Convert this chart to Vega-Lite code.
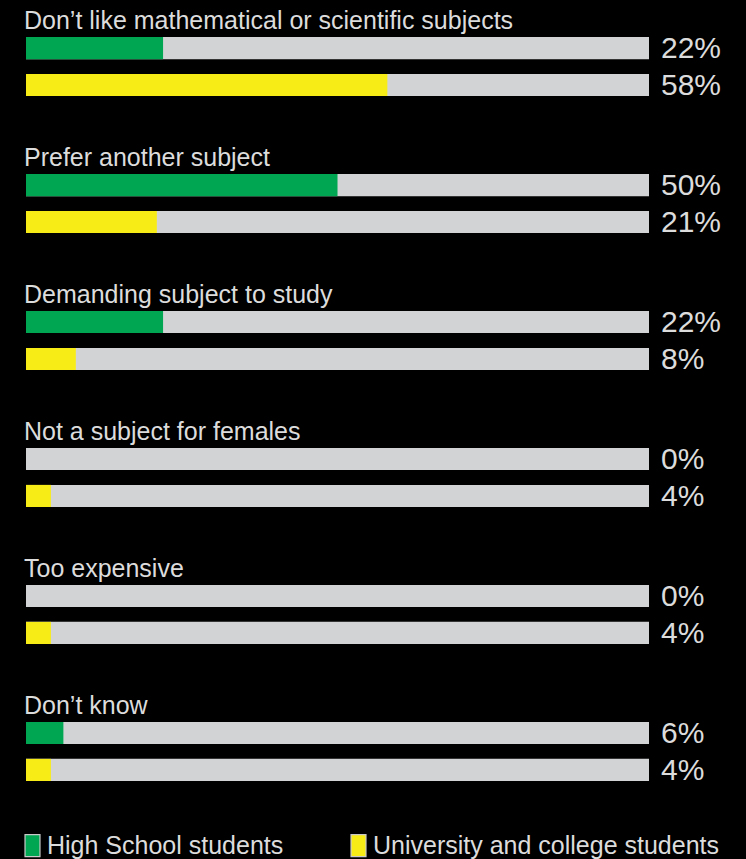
{
  "$schema": "https://vega.github.io/schema/vega-lite/v6.json",
  "width": 623,
  "height": 744,
  "autosize": {"type": "none"},
  "padding": {"left": 26, "top": 37, "right": 97, "bottom": 78},
  "background": "#000000",
  "config": {
    "view": {"stroke": null},
    "font": "Liberation Sans",
    "text": {"font": "Liberation Sans", "color": "#DCDCDC"}
  },
  "data": {
    "values": [
      {"category": "Don’t like mathematical or scientific subjects", "group": "High School students", "value": 0.22},
      {"category": "Don’t like mathematical or scientific subjects", "group": "University and college students", "value": 0.58},
      {"category": "Prefer another subject", "group": "High School students", "value": 0.50},
      {"category": "Prefer another subject", "group": "University and college students", "value": 0.21},
      {"category": "Demanding subject to study", "group": "High School students", "value": 0.22},
      {"category": "Demanding subject to study", "group": "University and college students", "value": 0.08},
      {"category": "Not a subject for females", "group": "High School students", "value": 0.0},
      {"category": "Not a subject for females", "group": "University and college students", "value": 0.04},
      {"category": "Too expensive", "group": "High School students", "value": 0.0},
      {"category": "Too expensive", "group": "University and college students", "value": 0.04},
      {"category": "Don’t know", "group": "High School students", "value": 0.06},
      {"category": "Don’t know", "group": "University and college students", "value": 0.04}
    ]
  },
  "encoding": {
    "y": {
      "field": "category",
      "type": "nominal",
      "axis": null,
      "sort": null,
      "scale": {
        "domain": ["Don’t like mathematical or scientific subjects", "Prefer another subject", "Demanding subject to study", "Not a subject for females", "Too expensive", "Don’t know"],
        "paddingInner": 0.569,
        "paddingOuter": 0
      }
    }
  },
  "layer": [
    {
      "mark": {"type": "bar", "color": "#D1D3D4"},
      "encoding": {
        "x": {"datum": 1, "type": "quantitative", "axis": null, "scale": {"domain": [0, 1]}},
        "x2": {"datum": 0},
        "yOffset": {"field": "group", "type": "nominal", "scale": {"domain": ["High School students", "University and college students"], "paddingInner": 0.4, "paddingOuter": 0}}
      }
    },
    {
      "mark": {"type": "bar"},
      "encoding": {
        "x": {"field": "value", "type": "quantitative", "axis": null, "scale": {"domain": [0, 1]}},
        "yOffset": {"field": "group", "type": "nominal", "scale": {"domain": ["High School students", "University and college students"], "paddingInner": 0.4, "paddingOuter": 0}},
        "color": {
          "field": "group",
          "type": "nominal",
          "scale": {"domain": ["High School students", "University and college students"], "range": ["#00A651", "#F8EC17"]},
          "legend": {
            "title": null,
            "orient": "none",
            "direction": "horizontal",
            "legendX": -6,
            "legendY": 796,
            "symbolType": "M-0.68,-1H0.68V1H-0.68Z",
            "symbolSize": 484,
            "symbolStrokeColor": "#C8C8C8",
            "symbolStrokeWidth": 1.2,
            "symbolOpacity": 1,
            "labelFont": "Liberation Sans",
            "labelFontSize": 25,
            "labelColor": "#DCDCDC",
            "labelOffset": 2,
            "labelLimit": 500,
            "columnPadding": 62
          }
        }
      }
    },
    {
      "mark": {"type": "text", "align": "left", "baseline": "middle", "dx": 12, "dy": 1, "fontSize": 30},
      "encoding": {
        "x": {"datum": 1, "type": "quantitative", "scale": {"domain": [0, 1]}},
        "yOffset": {"field": "group", "type": "nominal", "scale": {"domain": ["High School students", "University and college students"], "paddingInner": 0.4, "paddingOuter": 0}},
        "text": {"field": "value", "type": "quantitative", "format": ".0%"}
      }
    },
    {
      "transform": [{"filter": "datum.group === 'High School students'"}],
      "mark": {"type": "text", "align": "left", "baseline": "alphabetic", "dx": -2, "dy": -8, "fontSize": 25},
      "encoding": {
        "x": {"datum": 0, "type": "quantitative", "scale": {"domain": [0, 1]}},
        "y": {"field": "category", "type": "nominal", "bandPosition": 0, "sort": null},
        "text": {"field": "category", "type": "nominal"}
      }
    }
  ]
}
